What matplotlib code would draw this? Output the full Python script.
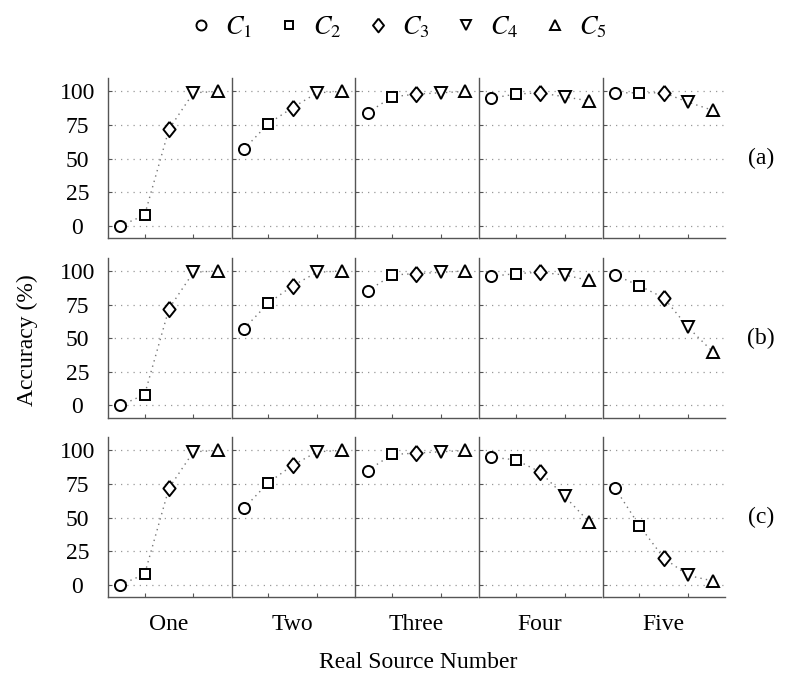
import matplotlib
matplotlib.use("Agg")
import matplotlib.pyplot as plt
from matplotlib.lines import Line2D
from matplotlib.transforms import blended_transform_factory

plt.rcParams["font.family"] = ["Liberation Serif", "DejaVu Serif"]
plt.rcParams["mathtext.fontset"] = "stix"

# accuracy (%) per real source number, classes C1..C5
columns = ["One", "Two", "Three", "Four", "Five"]
row_labels = ["(a)", "(b)", "(c)"]
classes = ["$C_1$", "$C_2$", "$C_3$", "$C_4$", "$C_5$"]

acc_a = [
    [0, 8, 72, 99, 100],
    [57, 76, 88, 99, 100],
    [84, 96, 98, 99, 100],
    [95, 98, 99, 96, 93],
    [99, 99, 99, 92, 86],
]
acc_b = [
    [0, 8, 72, 99, 100],
    [57, 76, 89, 99, 100],
    [85, 97, 98, 99, 100],
    [96, 98, 99, 97, 93],
    [97, 89, 80, 58, 40],
]
acc_c = [
    [0, 8, 72, 99, 100],
    [57, 76, 89, 99, 100],
    [85, 97, 98, 99, 100],
    [95, 93, 84, 66, 47],
    [72, 44, 20, 7, 3],
]
rows = [acc_a, acc_b, acc_c]
x = [1, 2, 3, 4, 5]
yticks = [0, 25, 50, 75, 100]

# diamond a bit taller than wide, like the original
diamond = [(0, 1), (0.8, 0), (0, -1), (-0.8, 0), (0, 1)]
markers = ["o", "s", diamond, "v", "^"]
msizes = [8, 7, 11, 8.5, 8.5]

W, H = 800, 688
fig = plt.figure(figsize=(W / 100, H / 100), dpi=100)

spine_col = "#555555"

for i, data in enumerate(rows):
    for j, vals in enumerate(data):
        left = (108 + j * 123.7) / W
        bottom = 1 - (238 + i * 179.5) / H
        ax = fig.add_axes([left, bottom, 122 / W, 160 / H])
        ax.plot(x, vals, linestyle=(0, (1, 3)), color="#777777", lw=1.0, zorder=2)
        for xi, v, m, ms in zip(x, vals, markers, msizes):
            ax.plot(xi, v, marker=m, ms=ms, mfc="white", mec="black",
                    mew=1.4, linestyle="none", zorder=3)
        ax.set_xlim(0.5, 5.5)
        ax.set_ylim(-9, 110)
        ax.set_xticks([2, 4])
        ax.set_xticklabels([])
        ax.set_yticks(yticks)
        for yt in yticks:
            ax.axhline(yt, color="#999999", lw=0.9, linestyle=(0, (1, 4)), zorder=1)
        ax.tick_params(direction="in", length=3, color=spine_col, width=0.8)
        for s in ["top", "right"]:
            ax.spines[s].set_visible(False)
        for s in ["left", "bottom"]:
            ax.spines[s].set_color(spine_col)
            ax.spines[s].set_linewidth(1.0)
        if j == 0:
            ax.set_yticklabels([str(t) for t in yticks], fontsize=17, ha="center")
            ax.tick_params(axis="y", pad=22)
        else:
            ax.set_yticklabels([])
        if i == 2:
            ax.text(0.5, -0.17, columns[j], transform=ax.transAxes,
                    ha="center", va="center", fontsize=17)
        if j == 4:
            tr = blended_transform_factory(fig.transFigure, ax.transData)
            ax.text(761 / W, 50, row_labels[i], transform=tr,
                    ha="center", va="center", fontsize=17)

fig.text(418 / W, 1 - 663 / H, "Real Source Number", ha="center", va="center",
         fontsize=17)
fig.text(27 / W, 1 - 340 / H, "Accuracy (%)", ha="center", va="center",
         rotation=90, fontsize=17)

handles = [Line2D([], [], marker=m, ms=ms * 0.9, mfc="white", mec="black",
                  mew=1.4, linestyle="none") for m, ms in zip(markers, msizes)]
fig.legend(handles, classes, loc="center", bbox_to_anchor=(0.495, 1 - 27 / H),
           ncol=5, frameon=False, fontsize=19, handletextpad=0.3,
           columnspacing=0.8, handlelength=1.2)

fig.savefig("out.png", dpi=100)
